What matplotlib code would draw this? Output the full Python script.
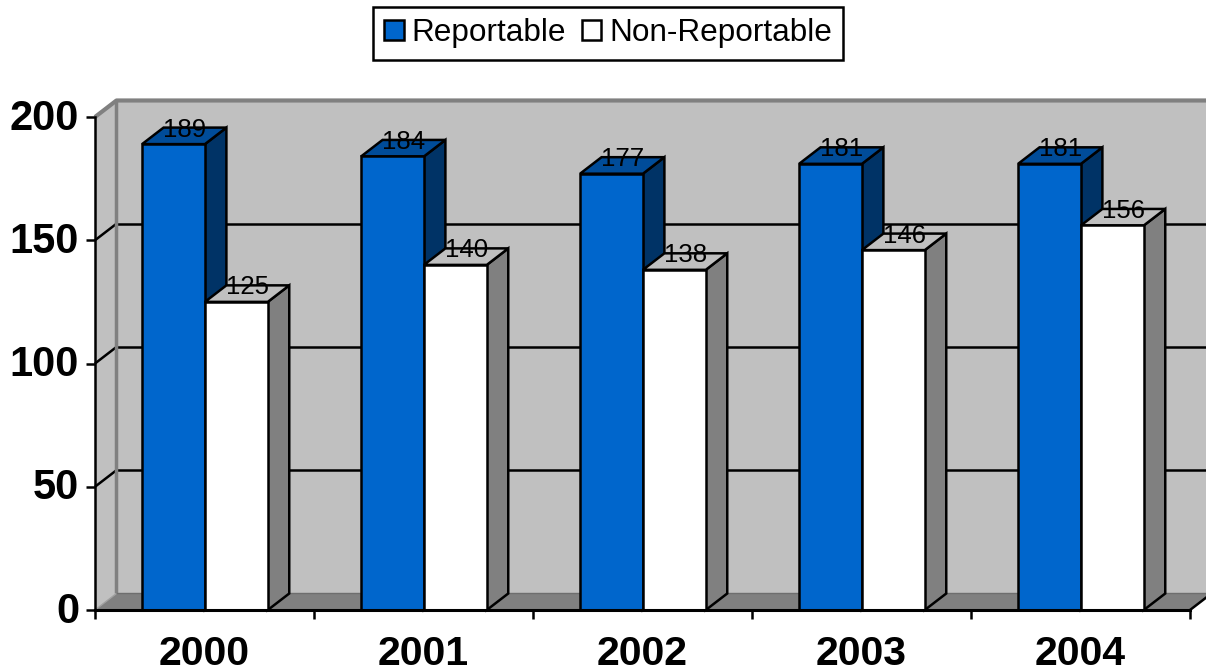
import matplotlib
matplotlib.use('Agg')
import matplotlib.pyplot as plt
from matplotlib.patches import Polygon, Rectangle, Patch
from matplotlib.transforms import ScaledTranslation

plt.rcParams['font.family'] = ['Liberation Sans', 'DejaVu Sans']

years = ['2000', '2001', '2002', '2003', '2004']
reportable = [189, 184, 177, 181, 181]
non_reportable = [125, 140, 138, 146, 156]
y_ticks = [0, 50, 100, 150, 200]

# depth of the fake 3D box, in data units
DX = 0.098
DY = 6.7
BAR_OFF = 0.215
BAR_W = 0.287

WALL = '#C0C0C0'
GREY = '#808080'

fig = plt.figure(figsize=(12.06, 6.72), dpi=100)
ax = fig.add_axes([95 / 1206, (672 - 610) / 672, 1095 / 1206, 493 / 672])
ax.set_xlim(0, 5)
ax.set_ylim(0, 200)
ax.patch.set_visible(False)


def poly(pts, fc, ec='none', lw=0, z=1):
    p = Polygon(pts, closed=True, facecolor=fc, edgecolor=ec, linewidth=lw,
                zorder=z, clip_on=False, joinstyle='miter')
    ax.add_patch(p)


def line(xs, ys, color='black', lw=1.5, z=2):
    ax.plot(xs, ys, color=color, lw=lw, zorder=z, clip_on=False,
            solid_capstyle='butt')


xr = 5 + DX
# back wall, side wall, floor
poly([(DX, DY), (xr, DY), (xr, 200 + DY), (DX, 200 + DY)], WALL)
poly([(0, 0), (DX, DY), (DX, 200 + DY), (0, 200)], WALL)
poly([(0, 0), (5, 0), (xr, DY), (DX, DY)], GREY)

for v in y_ticks[1:-1]:
    line([0, DX], [v, v + DY], lw=1.8)
    line([DX, xr], [v + DY, v + DY], lw=1.8)

line([0, DX, xr], [200, 200 + DY, 200 + DY], color=GREY, lw=3)
line([DX, DX], [DY, 200 + DY], color=GREY, lw=2.5)
line([0, DX], [0, DY], color='#A0A0A0', lw=1)
line([DX, xr], [DY, DY], color='#6E6E6E', lw=1)
line([5, xr], [0, DY], lw=1.8)


def draw_bar(x, val, front, top, side, z):
    poly([(x + BAR_W, 0), (x + BAR_W + DX, DY), (x + BAR_W + DX, val + DY), (x + BAR_W, val)],
         side, 'black', 1.8, z)
    poly([(x, val), (x + BAR_W, val), (x + BAR_W + DX, val + DY), (x + DX, val + DY)],
         top, 'black', 1.8, z)
    ax.add_patch(Rectangle((x, 0), BAR_W, val, facecolor=front, edgecolor='black',
                           linewidth=1.8, zorder=z, clip_on=False))
    ax.text(x + BAR_W / 2 + DX / 2, val + DY - 0.8, str(val), ha='center', va='center',
            fontsize=18.5, color='black', zorder=30)


for i in range(len(years)):
    draw_bar(i + BAR_OFF, reportable[i], '#0066CC', '#004C99', '#003366', 4 + i * 2)
    draw_bar(i + BAR_OFF + BAR_W, non_reportable[i], 'white', WALL, GREY, 5 + i * 2)

# axes
for s in ['top', 'right']:
    ax.spines[s].set_visible(False)
ax.spines['left'].set_linewidth(1.8)
ax.spines['bottom'].set_linewidth(2.2)
for s in ['left', 'bottom']:
    ax.spines[s].set_zorder(20)

ax.set_yticks(y_ticks)
ax.set_yticklabels([str(v) for v in y_ticks], fontsize=30, fontweight='bold')
ax.tick_params(axis='y', length=6.5, width=1.8, pad=5)
up = ScaledTranslation(0, 2 / 72, fig.dpi_scale_trans)
for lab in ax.get_yticklabels():
    lab.set_transform(lab.get_transform() + up)
ax.set_xticks(range(6))
ax.set_xticklabels([])
ax.tick_params(axis='x', which='major', length=6.5, width=1.8)
ax.set_xticks([i + 0.5 for i in range(5)], minor=True)
ax.set_xticklabels(years, minor=True, fontsize=29.5, fontweight='bold')
ax.tick_params(axis='x', which='minor', length=0, pad=18)

handles = [Patch(facecolor='#0066CC', edgecolor='black', linewidth=1.8, label='Reportable'),
           Patch(facecolor='white', edgecolor='black', linewidth=1.8, label='Non-Reportable')]
leg = fig.legend(handles=handles, loc='upper center', bbox_to_anchor=(608 / 1206, 1 - 7 / 672),
                 ncol=2, fontsize=22.7, frameon=True, fancybox=False, framealpha=1,
                 edgecolor='black', handlelength=0.62, handleheight=0.62,
                 handletextpad=0.25, columnspacing=0.5, borderpad=0.36, borderaxespad=0)
leg.get_frame().set_linewidth(1.8)

fig.savefig('out.png', dpi=100)
